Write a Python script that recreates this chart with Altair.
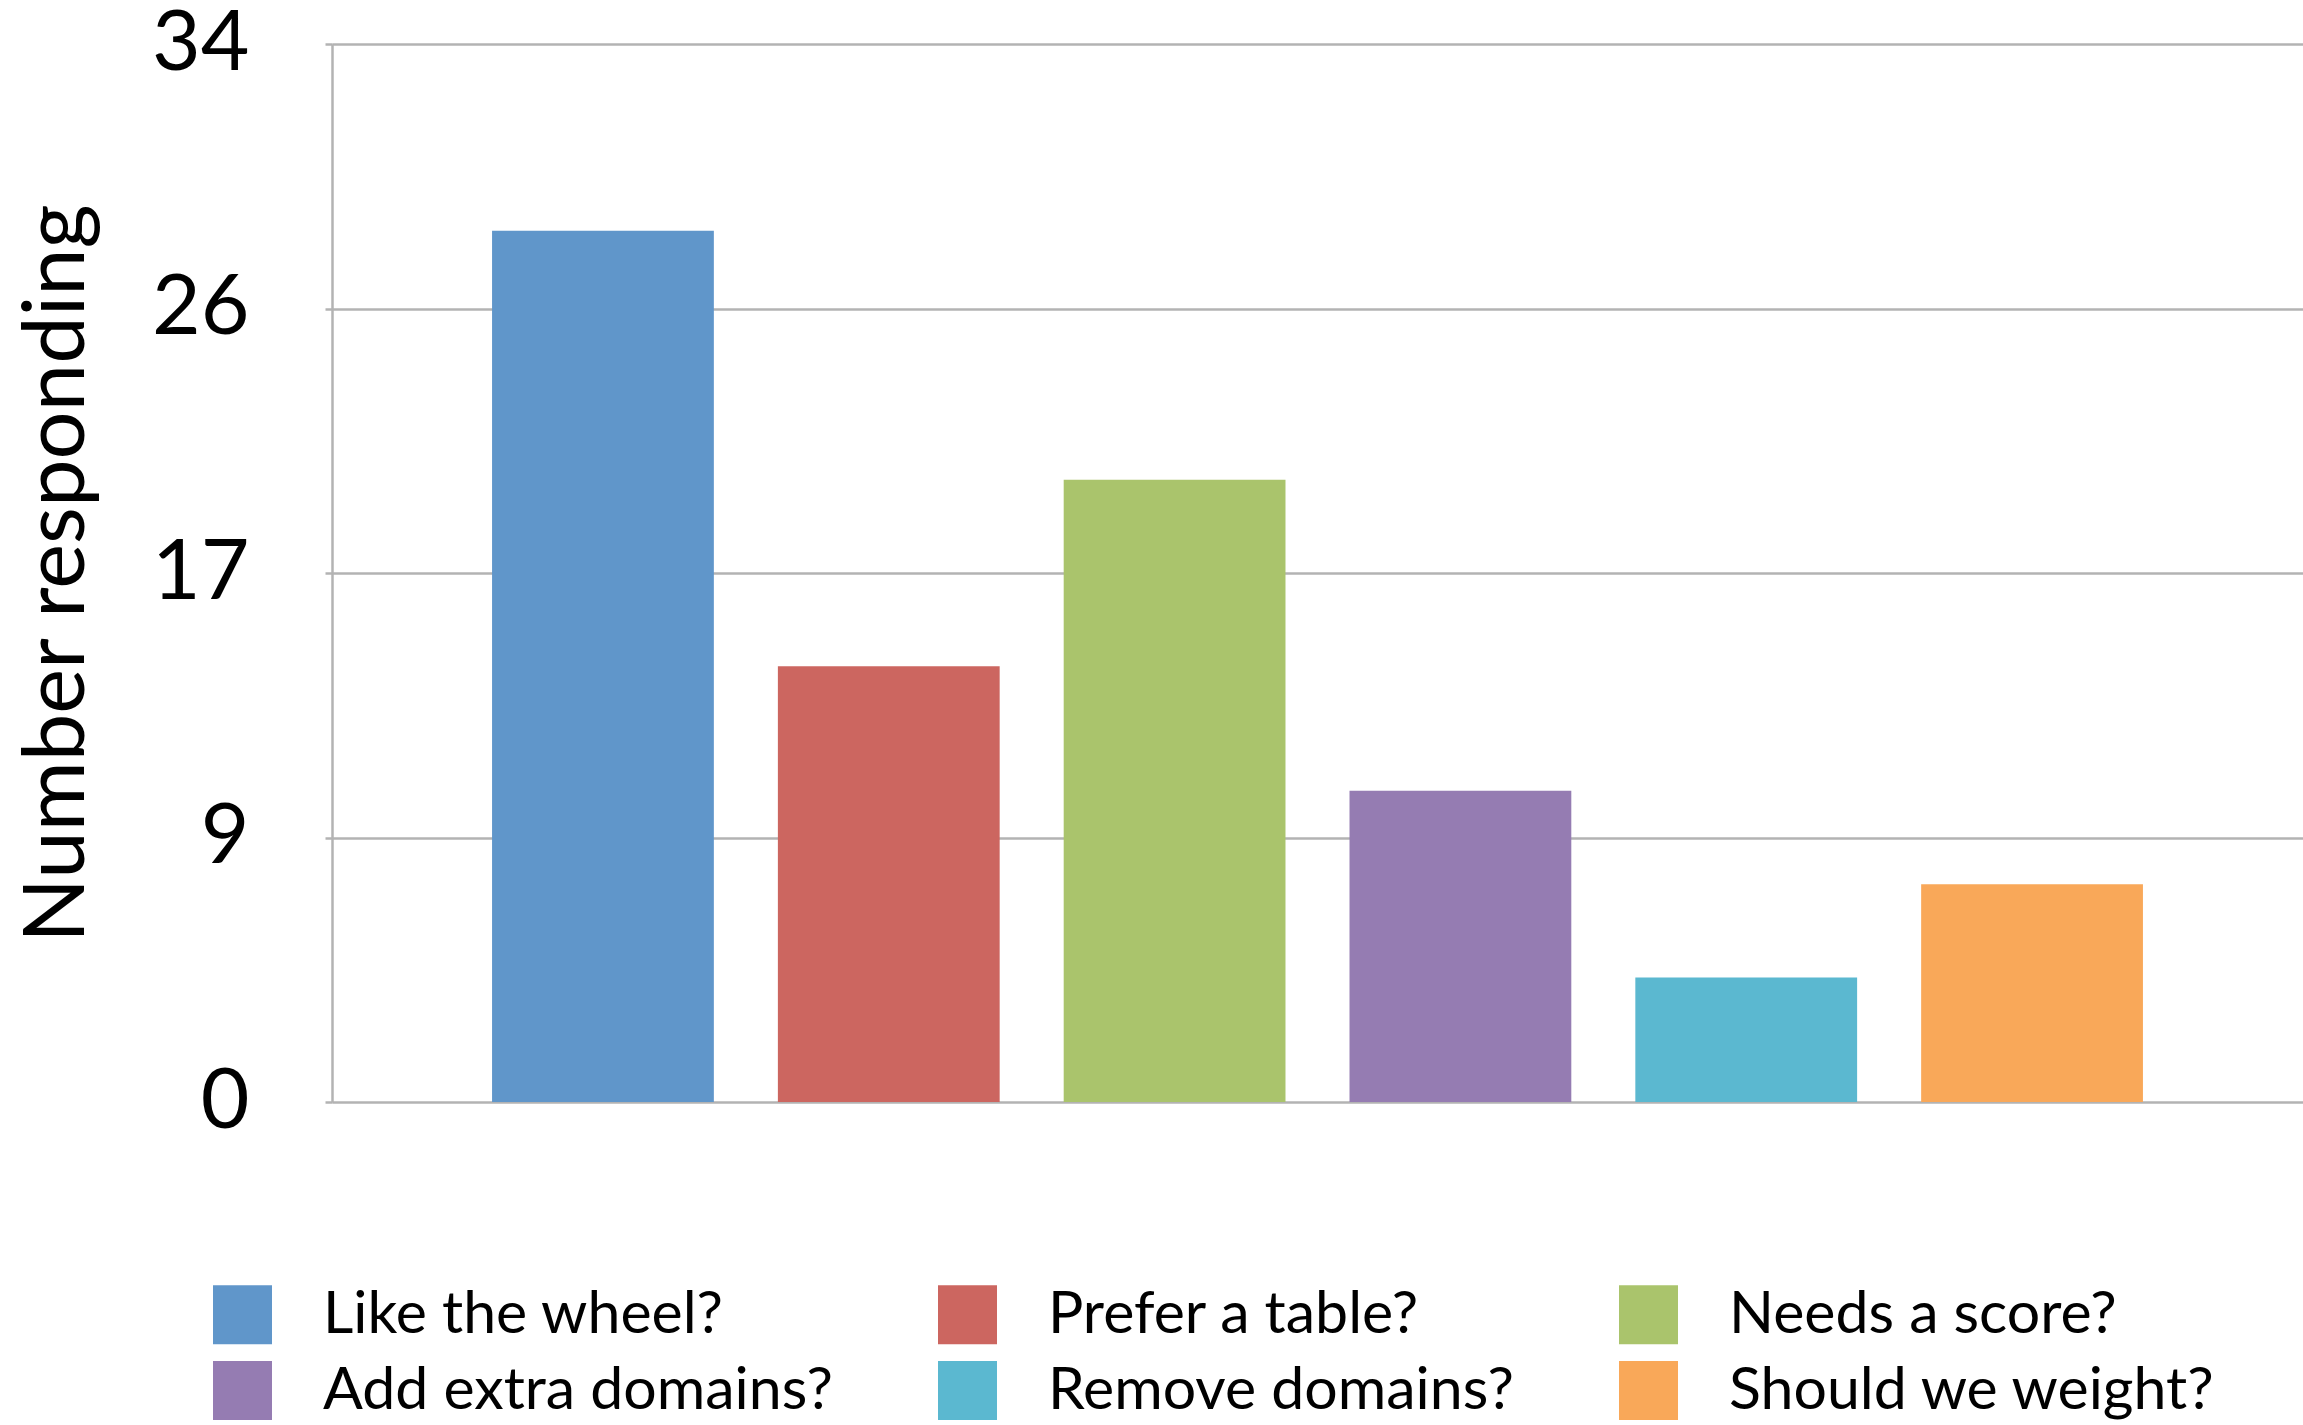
import altair as alt
import pandas as pd

categories = ["Like the wheel?", "Prefer a table?", "Needs a score?",
              "Add extra domains?", "Remove domains?", "Should we weight?"]
values = [28, 14, 20, 10, 4, 7]
colors = ["#6096CA", "#CC6660", "#AAC46C", "#957CB2", "#5BB8D0", "#F9A859"]
y_ticks = [0, 8.5, 17, 25.5, 34]

# legend is filled column by column, so give the colour scale the order that
# reads row by row as in the reference
legend_order = [categories[i] for i in (0, 3, 1, 4, 2, 5)]
legend_colors = [colors[i] for i in (0, 3, 1, 4, 2, 5)]

df = pd.DataFrame({"question": categories, "count": values})

FONT = "Lato"
GRID = "#b3b3b3"

chart = alt.Chart(df).mark_bar().encode(
    x=alt.X("question:N", sort=categories,
            scale=alt.Scale(paddingInner=0.224, paddingOuter=0.56),
            axis=None),
    y=alt.Y("count:Q",
            scale=alt.Scale(domain=[0, 34], nice=False, zero=True),
            axis=alt.Axis(values=y_ticks,
                          labelExpr="format(round(datum.value), 'd')",
                          title="Number responding",
                          titleFont=FONT, titleFontSize=85, titleFontWeight="normal",
                          titleColor="#000000",
                          titleAngle=-90, titleX=-249, titleY=529,
                          titleAlign="center", titleBaseline="alphabetic",
                          labelFont=FONT, labelFontSize=84, labelColor="#000000",
                          labelPadding=76,
                          grid=True, gridColor=GRID, gridWidth=2.5,
                          domain=True, domainColor=GRID, domainWidth=2.5,
                          ticks=True, tickColor=GRID, tickWidth=2.5, tickSize=7)),
    color=alt.Color("question:N",
                    scale=alt.Scale(domain=legend_order, range=legend_colors),
                    legend=alt.Legend(title=None, orient="none",
                                      legendX=-119, legendY=1241,
                                      columns=3, columnPadding=105, rowPadding=16,
                                      symbolType="square", symbolSize=3481,
                                      symbolStrokeWidth=0, symbolOpacity=1,
                                      labelFont=FONT, labelFontSize=59,
                                      labelColor="#000000", labelOffset=51,
                                      labelLimit=1000, padding=0))
).properties(
    width=1971, height=1058,
    autosize=alt.AutoSizeParams(type="none"),
    padding={"left": 332, "top": 44, "right": 0, "bottom": 323}
).configure_view(stroke=None).configure(background="white")

chart.save("out.html", embed_options={"renderer": "svg", "actions": False})
